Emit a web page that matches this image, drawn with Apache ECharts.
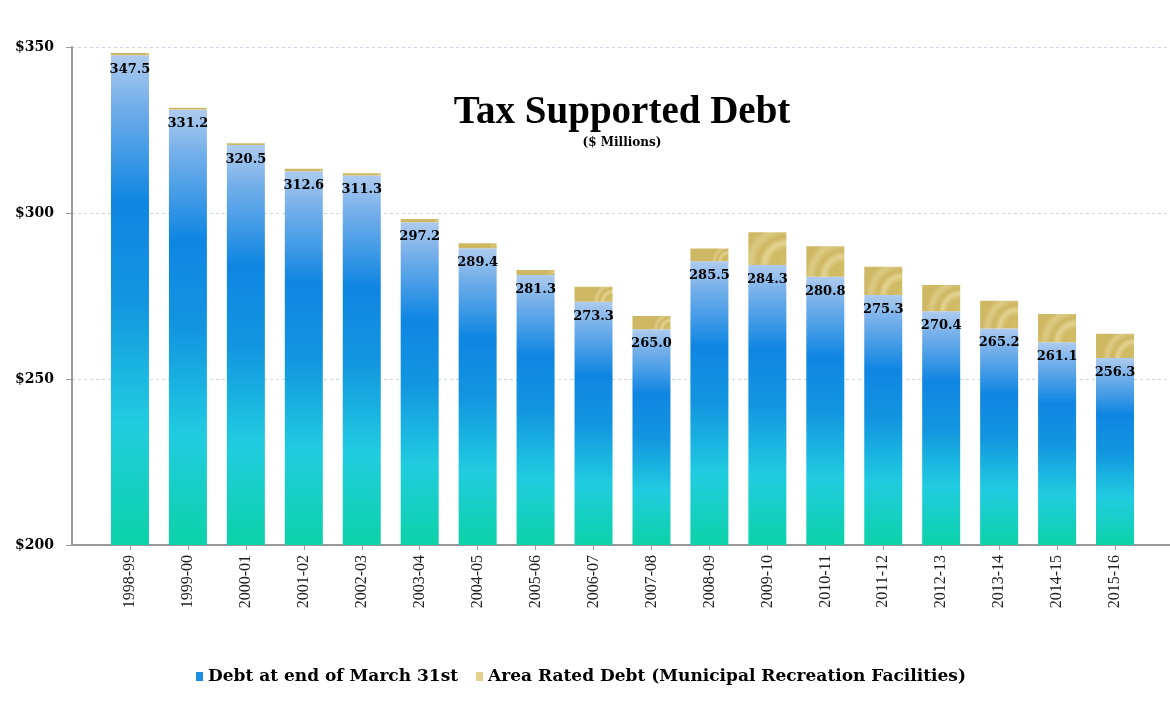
<!DOCTYPE html>
<html>
<head>
<meta charset="utf-8">
<script src="https://cdn.jsdelivr.net/npm/echarts@6/dist/echarts.min.js"></script>
<style>
  html, body { margin: 0; padding: 0; background: #fff; }
  #chart { width: 1170px; height: 702px; }
</style>
</head>
<body>
<div id="chart"></div>
<script>
// Fiscal years
const years = ['1998-99', '1999-00', '2000-01', '2001-02', '2002-03', '2003-04', '2004-05', '2005-06', '2006-07',
  '2007-08', '2008-09', '2009-10', '2010-11', '2011-12', '2012-13', '2013-14', '2014-15', '2015-16'];
// Debt at end of March 31st ($ millions)
const debtMarch31 = [347.5, 331.2, 320.5, 312.6, 311.3, 297.2, 289.4, 281.3, 273.3,
  265.0, 285.5, 284.3, 280.8, 275.3, 270.4, 265.2, 261.1, 256.3];
// Area rated debt for municipal recreation facilities ($ millions)
const areaRated = [0.7, 0.5, 0.5, 0.7, 0.7, 1.0, 1.5, 1.5, 4.5,
  4.0, 3.8, 9.9, 9.2, 8.5, 7.9, 8.4, 8.5, 7.3];
// Value axis ticks
const yMin = 200, yMax = 350, yStep = 50;

const serif = '"Liberation Serif", "DejaVu Serif", serif';
const wideSerif = '"DejaVu Serif", "Liberation Serif", serif';

const blueFill = new echarts.graphic.LinearGradient(0, 0, 0, 1, [
  { offset: 0, color: '#aecbee' },
  { offset: 0.1, color: '#74afea' },
  { offset: 0.3, color: '#0f86e2' },
  { offset: 0.5, color: '#1295e0' },
  { offset: 0.75, color: '#20cce0' },
  { offset: 1, color: '#0cd2a8' }
]);
const goldFill = new echarts.graphic.RadialGradient(1.0, 1.0, 1.3, [
  { offset: 0, color: '#d4bf6a' },
  { offset: 0.35, color: '#cfb962' },
  { offset: 0.52, color: '#e3d390' },
  { offset: 0.66, color: '#cdb660' },
  { offset: 0.85, color: '#dccb84' },
  { offset: 1, color: '#cfb864' }
]);

const chart = echarts.init(document.getElementById('chart'), null, { renderer: 'canvas' });

chart.setOption({
  backgroundColor: '#ffffff',
  animation: false,
  title: {
    text: 'Tax Supported Debt',
    subtext: '($ Millions)',
    left: 617,
    textAlign: 'center',
    top: 88,
    itemGap: 5,
    textStyle: { fontFamily: serif, fontWeight: 'bold', fontSize: 39, color: '#000' },
    subtextStyle: { fontFamily: wideSerif, fontWeight: 'bold', fontSize: 12, color: '#000' }
  },
  legend: {
    left: 191,
    top: 663,
    itemWidth: 7,
    itemHeight: 9,
    itemGap: 18,
    icon: 'rect',
    textStyle: { fontFamily: wideSerif, fontWeight: 'bold', fontSize: 17, color: '#000' },
    data: [
      { name: 'Debt at end of March 31st', itemStyle: { color: '#1e8fe0' } },
      { name: 'Area Rated Debt (Municipal Recreation Facilities)', itemStyle: { color: '#e2d08c' } }
    ]
  },
  grid: [
    { left: 72, right: 0, top: 47, bottom: 157 },
    { left: 101, right: 26, top: 47, bottom: 157 }
  ],
  xAxis: [
    {
      gridIndex: 0, type: 'value', min: 0, max: 1,
      axisLine: { show: true, lineStyle: { color: '#9a9a9a', width: 2 } },
      axisTick: { show: false }, axisLabel: { show: false }, splitLine: { show: false }
    },
    {
      gridIndex: 1, type: 'category', data: years,
      axisLine: { show: false },
      axisTick: { show: true, alignWithLabel: true, length: 5, lineStyle: { color: '#9a9a9a' } },
      axisLabel: { rotate: 90, margin: 10, fontFamily: serif, fontSize: 16, color: '#222' }
    }
  ],
  yAxis: [
    {
      gridIndex: 0, type: 'value', min: yMin, max: yMax, interval: yStep,
      axisLine: { show: true, lineStyle: { color: '#9a9a9a', width: 2 } },
      axisTick: { show: true, length: 6, lineStyle: { color: '#9a9a9a' } },
      axisLabel: { formatter: v => '$' + v, margin: 18, fontFamily: wideSerif, fontWeight: 'bold', fontSize: 14, color: '#000' },
      splitLine: { show: true, lineStyle: { color: '#c8d6ec', type: [3, 3], width: 1 } }
    },
    {
      gridIndex: 1, type: 'value', min: yMin, max: yMax, interval: yStep,
      show: false, splitLine: { show: false }
    }
  ],
  series: [
    {
      name: 'Debt at end of March 31st',
      type: 'bar', xAxisIndex: 1, yAxisIndex: 1, stack: 'debt',
      barWidth: 38,
      data: debtMarch31,
      itemStyle: { color: blueFill },
      label: {
        show: true, position: 'insideTop', distance: 8,
        formatter: p => p.value.toFixed(1),
        fontFamily: wideSerif, fontWeight: 'bold', fontSize: 13, color: '#000'
      }
    },
    {
      name: 'Area Rated Debt (Municipal Recreation Facilities)',
      type: 'bar', xAxisIndex: 1, yAxisIndex: 1, stack: 'debt',
      barWidth: 38,
      data: areaRated,
      itemStyle: { color: goldFill }
    }
  ]
});
</script>
</body>
</html>
